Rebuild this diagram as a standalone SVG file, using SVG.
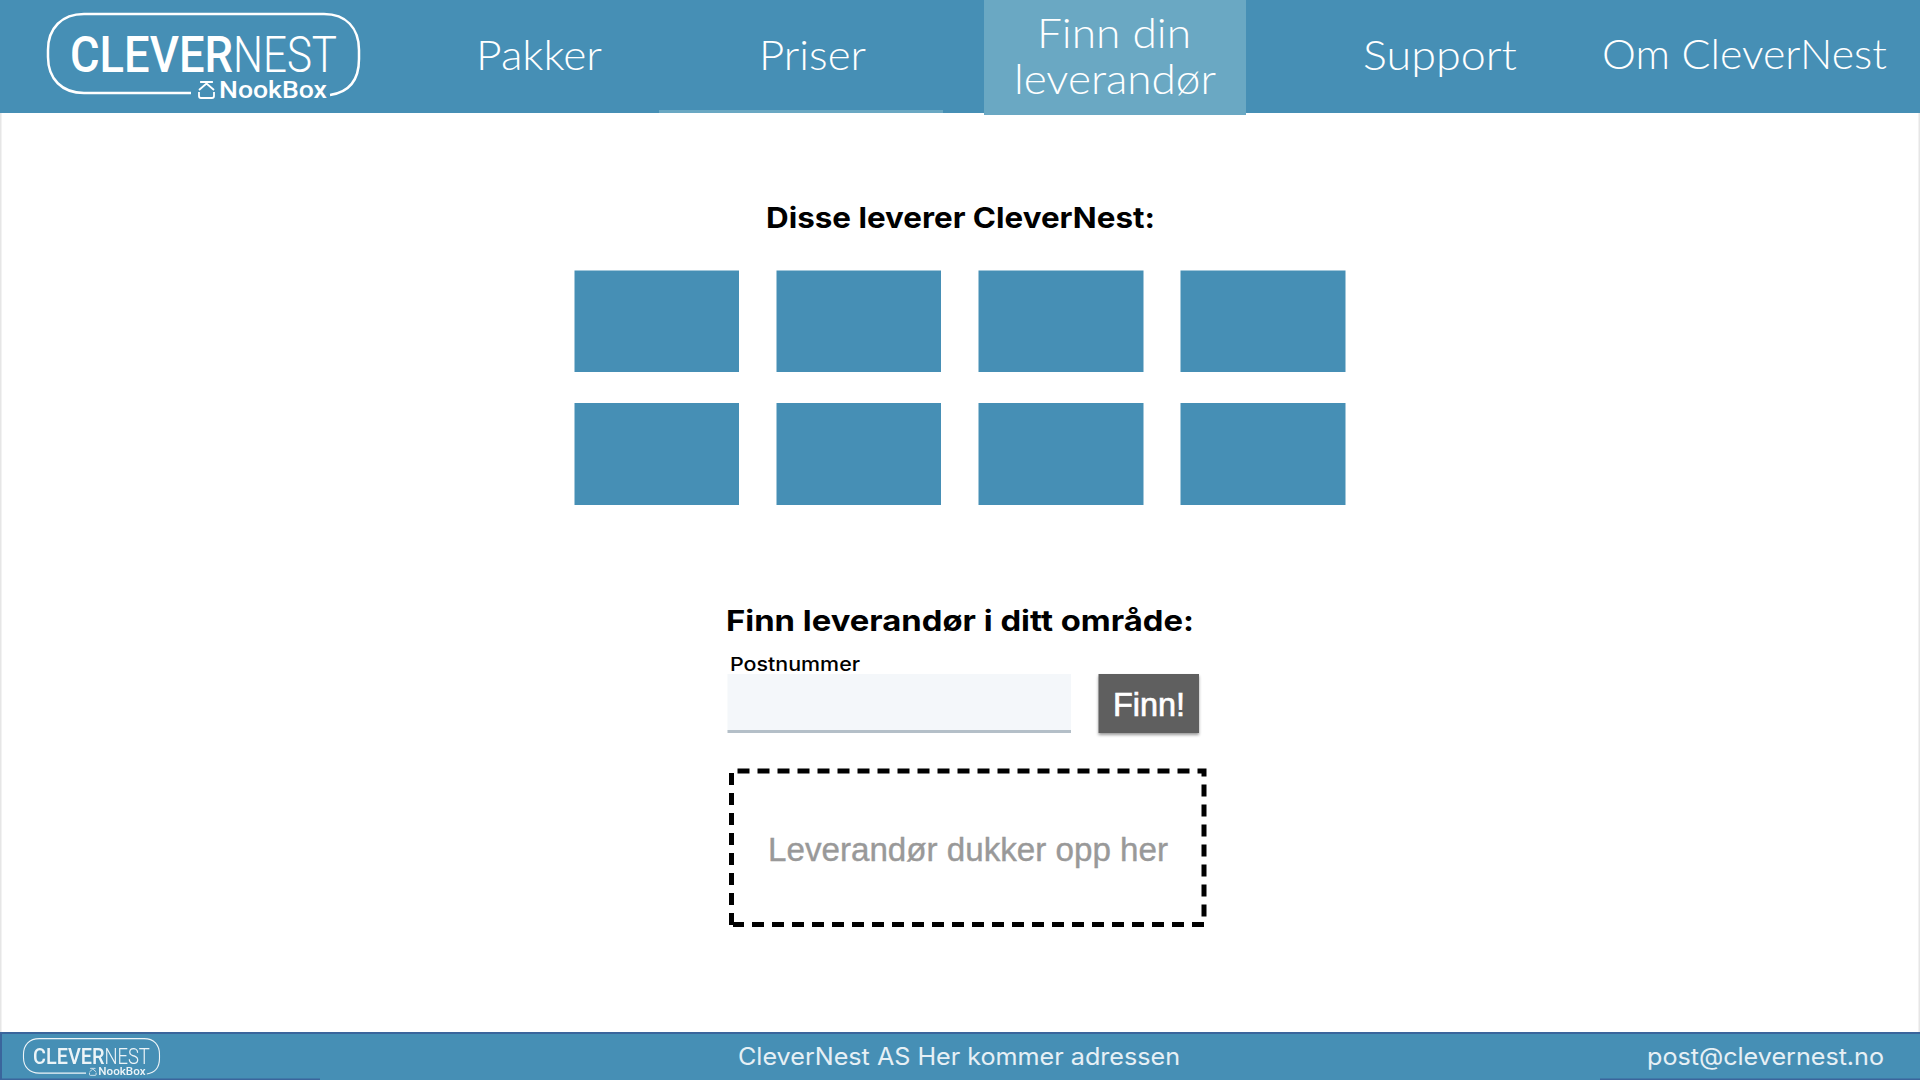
<svg xmlns="http://www.w3.org/2000/svg" xmlns:xlink="http://www.w3.org/1999/xlink" width="1920" height="1080" viewBox="0 0 1920 1080">
<style>
.bar{fill:#468fb5}
.box{fill:#468fb5}
.nav{font-family:"Lato","Open Sans",sans-serif;font-weight:300;font-size:41px;fill:#fff;text-anchor:start}
.head{font-family:"Inter","Open Sans",sans-serif;font-weight:700;font-size:29px;fill:#000}
.foot{font-family:"Inter","Open Sans",sans-serif;font-weight:400;font-size:24px;fill:#e6f0f5}
.lc{font-family:"Roboto",sans-serif;font-size:50px;fill:#fff}
.lb{font-family:"Roboto",sans-serif;font-weight:500;font-size:24px;fill:#fff}
</style>
<defs>
<filter id="sh" x="-10%" y="-10%" width="120%" height="125%"><feDropShadow dx="0" dy="2" stdDeviation="1.5" flood-color="#000" flood-opacity=".4"/></filter>
<g id="logo">
<path d="M191 93H84C62 93 48 79 48 57V50C48 28 62 14 84 14H324C346 14 359 28 359 50V59C359 79 350 92 330 95" fill="none" stroke="#fff" stroke-width="2.5"/>
<text class="lc" x="70" y="72" font-weight="500" textLength="163" lengthAdjust="spacingAndGlyphs">CLEVER</text>
<text class="lc" x="233" y="72" font-weight="300" textLength="104" lengthAdjust="spacingAndGlyphs">NEST</text>
<path d="M199 90L206.5 83.500L214 90M201 83V82H212V83M199 92V96Q199 98 201 98H212Q214 98 214 96V92" fill="none" stroke="#fff" stroke-width="1.800"/>
<text class="lb" x="219" y="98" textLength="108" lengthAdjust="spacingAndGlyphs">NookBox</text>
</g>
</defs>
<rect width="1920" height="1080" fill="#fff"/>
<rect x="0" y="113" width="1.5" height="920" fill="#e6e6e6"/>
<rect x="1918.5" y="113" width="1.5" height="920" fill="#e6e6e6"/>
<g id="header">
<rect class="bar" width="1920" height="113"/>
<rect x="659" y="110" width="284" height="3" fill="#6aa8c3"/>
<rect x="984" y="0" width="262" height="115" fill="#6aa8c3"/>
</g>
<g id="logo-top"><use href="#logo"/></g>
<g id="nav-pakker"><text class="nav" x="476" y="70" textLength="126" lengthAdjust="spacingAndGlyphs">Pakker</text></g>
<g id="nav-priser"><text class="nav" x="759" y="70" textLength="107" lengthAdjust="spacingAndGlyphs">Priser</text></g>
<g id="nav-finn"><text class="nav" x="1037" y="48" textLength="154" lengthAdjust="spacingAndGlyphs">Finn din</text><text class="nav" x="1014" y="94" textLength="202" lengthAdjust="spacingAndGlyphs">leverandør</text></g>
<g id="nav-support"><text class="nav" x="1363" y="70" textLength="154" lengthAdjust="spacingAndGlyphs">Support</text></g>
<g id="nav-om"><text class="nav" x="1602" y="69" textLength="285" lengthAdjust="spacingAndGlyphs">Om CleverNest</text></g>
<g id="title-1"><text class="head" x="766" y="228" textLength="389" lengthAdjust="spacingAndGlyphs">Disse leverer CleverNest:</text></g>
<g id="boxes">
<rect class="box" x="574.500" y="270.500" width="164.500" height="101.500"/>
<rect class="box" x="776.500" y="270.500" width="164.500" height="101.500"/>
<rect class="box" x="978.500" y="270.500" width="165" height="101.500"/>
<rect class="box" x="1180.500" y="270.500" width="165" height="101.500"/>
<rect class="box" x="574.500" y="403" width="164.500" height="102"/>
<rect class="box" x="776.500" y="403" width="164.500" height="102"/>
<rect class="box" x="978.500" y="403" width="165" height="102"/>
<rect class="box" x="1180.500" y="403" width="165" height="102"/>
</g>
<g id="title-2"><text class="head" x="726" y="631" textLength="468" lengthAdjust="spacingAndGlyphs">Finn leverandør i ditt område:</text></g>
<g id="input">
<text x="730" y="671" font-family="Inter,'Open Sans',sans-serif" font-weight="500" font-size="19" fill="#000" textLength="130" lengthAdjust="spacingAndGlyphs">Postnummer</text>
<rect x="727.500" y="674" width="343.500" height="57" fill="#f4f7fa"/>
<rect x="727.500" y="730" width="343.500" height="3" fill="#b4bfc8"/>
</g>
<g id="button">
<rect x="1098.500" y="674" width="100.500" height="59" fill="#5f5f5f" filter="url(#sh)"/>
<text x="1113" y="715.500" font-family="'Liberation Sans',sans-serif" font-size="33" fill="#fff" stroke="#fff" stroke-width=".7" textLength="72" lengthAdjust="spacingAndGlyphs">Finn!</text>
</g>
<g id="result">
<path d="M731.500 925V771H1204V924.500H733" fill="none" stroke="#000" stroke-width="5" stroke-dasharray="12 8"/>
<text x="768" y="861" font-family="'Liberation Sans',sans-serif" font-size="33" fill="#999" stroke="#999" stroke-width=".4" textLength="400" lengthAdjust="spacingAndGlyphs">Leverandør dukker opp her</text>
</g>
<g id="footer">
<rect class="bar" y="1032" width="1920" height="48"/>
<rect y="1032" width="1920" height="2" fill="#3a659c"/>
<rect y="1032" width="2" height="48" fill="#3a659c"/>
<rect y="1078.500" width="320" height="1.500" fill="#3a659c"/>
<rect x="1600" y="1078.500" width="320" height="1.500" fill="#3a659c"/>
<text class="foot" x="738" y="1065" textLength="442" lengthAdjust="spacingAndGlyphs">CleverNest AS Her kommer adressen</text>
<text class="foot" x="1647" y="1065" textLength="237" lengthAdjust="spacingAndGlyphs">post@clevernest.no</text>
</g>
<g id="logo-foot" transform="translate(2.500 1032.500) scale(.4373)" opacity=".9"><use href="#logo"/></g>
</svg>
